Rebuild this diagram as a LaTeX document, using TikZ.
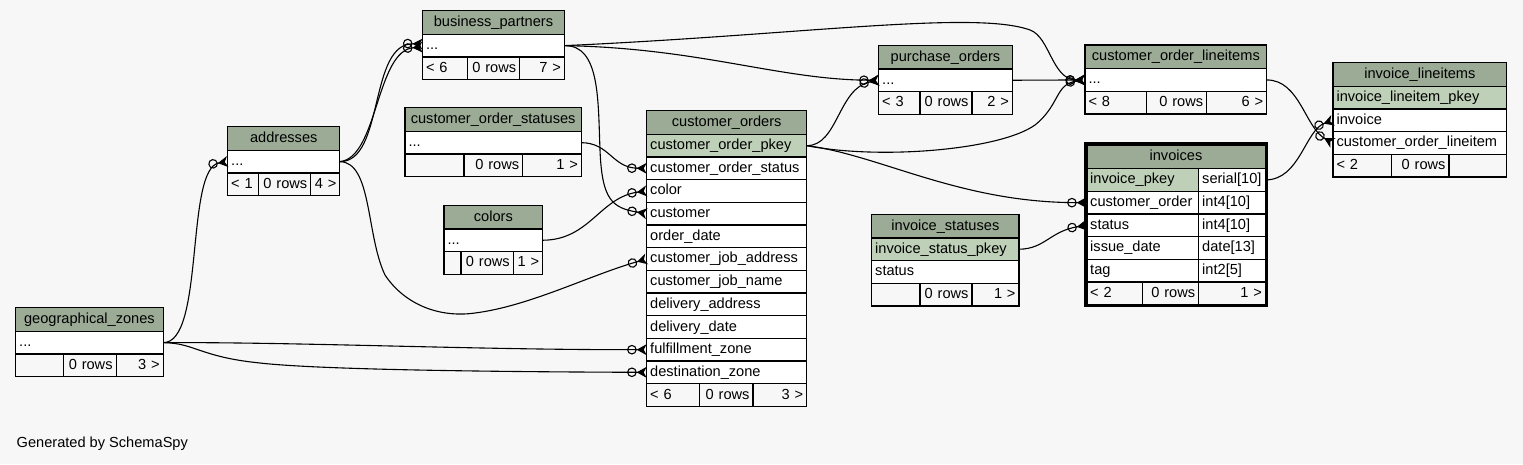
\documentclass[tikz,border=0pt]{standalone}
\usepackage{fontspec}
\setmainfont{Liberation Sans}
\usetikzlibrary{positioning,arrows.meta}

\definecolor{bgcol}{HTML}{F7F7F7}
\definecolor{headgreen}{HTML}{9BAB96}
\definecolor{keygreen}{HTML}{BED1B8}

\tikzset{
  cell/.style={draw, line width=1.2pt, outer sep=0pt, inner xsep=3.5pt, inner ysep=0pt,
    anchor=north west, minimum height=22.67pt, text height=10.6pt, text depth=2.6pt},
  thead/.style={cell, fill=headgreen, minimum height=23.6pt, text width=#1pt-7pt, align=center},
  pkey/.style={cell, fill=keygreen, text width=#1pt-7pt, align=left},
  field/.style={cell, fill=white, text width=#1pt-7pt, align=left},
  fleft/.style={cell, text width=#1pt-7pt, align=left},
  fright/.style={cell, text width=#1pt-7pt, align=right},
  fk/.style={line width=1.1pt,
    -{Circle[open,length=9.6pt,width=9.6pt,sep=0pt]Stealth[reversed,length=10pt,width=11pt,inset=3pt]}}
}

\begin{document}
\begin{tikzpicture}[x=1pt, y=-1pt, font=\fontsize{14.6}{17}\selectfont]
  \fill[bgcol] (0,0) rectangle (1523,464);
  \useasboundingbox (0,0) rectangle (1523,464);

  % business_partners
  \node[thead=142] (bp-h) at (422.5,10.7) {business\_partners};
  \node[field=142] (bp-r) at (bp-h.south west) {...};
  \node[fleft=45.2] (bp-f1) at (bp-r.south west) {< 6};
  \node[fright=52, right=0pt of bp-f1] (bp-f2) {0 rows};
  \node[fright=44.8, right=0pt of bp-f2] (bp-f3) {7 >};

  % addresses
  \node[thead=112.1] (addr-h) at (227.7,126.7) {addresses};
  \node[field=112.1] (addr-r) at (addr-h.south west) {...};
  \node[fleft=31] (addr-f1) at (addr-r.south west) {< 1};
  \node[fright=52.1, right=0pt of addr-f1] (addr-f2) {0 rows};
  \node[fright=29, right=0pt of addr-f2] (addr-f3) {4 >};

  % customer_order_statuses
  \node[thead=176.3] (cost-h) at (405,107.7) {customer\_order\_statuses};
  \node[field=176.3] (cost-r) at (cost-h.south west) {...};
  \node[fleft=59] (cost-f1) at (cost-r.south west) {};
  \node[fright=58.7, right=0pt of cost-f1] (cost-f2) {0 rows};
  \node[fright=58.6, right=0pt of cost-f2] (cost-f3) {1 >};

  % colors
  \node[thead=98.7] (clr-h) at (444,205.3) {colors};
  \node[field=98.7] (clr-r) at (clr-h.south west) {...};
  \node[fleft=17] (clr-f1) at (clr-r.south west) {};
  \node[fright=52.3, right=0pt of clr-f1] (clr-f2) {0 rows};
  \node[fright=29.4, right=0pt of clr-f2] (clr-f3) {1 >};

  % customer_orders
  \node[thead=160] (co-h) at (646.7,110.7) {customer\_orders};
  \node[pkey=160] (co-pk) at (co-h.south west) {customer\_order\_pkey};
  \node[field=160] (co-st) at (co-pk.south west) {customer\_order\_status};
  \node[field=160] (co-clr) at (co-st.south west) {color};
  \node[field=160] (co-cust) at (co-clr.south west) {customer};
  \node[field=160] (co-date) at (co-cust.south west) {order\_date};
  \node[field=160] (co-jaddr) at (co-date.south west) {customer\_job\_address};
  \node[field=160] (co-jname) at (co-jaddr.south west) {customer\_job\_name};
  \node[field=160] (co-daddr) at (co-jname.south west) {delivery\_address};
  \node[field=160] (co-ddate) at (co-daddr.south west) {delivery\_date};
  \node[field=160] (co-fz) at (co-ddate.south west) {fulfillment\_zone};
  \node[field=160] (co-dz) at (co-fz.south west) {destination\_zone};
  \node[fleft=53.1] (co-f1) at (co-dz.south west) {< 6};
  \node[fright=53.2, right=0pt of co-f1] (co-f2) {0 rows};
  \node[fright=53.7, right=0pt of co-f2] (co-f3) {3 >};

  % purchase_orders
  \node[thead=133.6] (po-h) at (878.7,45.3) {purchase\_orders};
  \node[field=133.6] (po-r) at (po-h.south west) {...};
  \node[fleft=41.3] (po-f1) at (po-r.south west) {< 3};
  \node[fright=52, right=0pt of po-f1] (po-f2) {0 rows};
  \node[fright=40.3, right=0pt of po-f2] (po-f3) {2 >};

  % customer_order_lineitems
  \node[thead=181.7] (coli-h) at (1085,45) {customer\_order\_lineitems};
  \node[field=181.7] (coli-r) at (coli-h.south west) {...};
  \node[fleft=61.7] (coli-f1) at (coli-r.south west) {< 8};
  \node[fright=60, right=0pt of coli-f1] (coli-f2) {0 rows};
  \node[fright=60, right=0pt of coli-f2] (coli-f3) {6 >};

  % invoice_statuses
  \node[thead=147.3] (ist-h) at (871.7,214.3) {invoice\_statuses};
  \node[pkey=147.3] (ist-pk) at (ist-h.south west) {invoice\_status\_pkey};
  \node[field=147.3] (ist-st) at (ist-pk.south west) {status};
  \node[fleft=48.3] (ist-f1) at (ist-st.south west) {};
  \node[fright=52, right=0pt of ist-f1] (ist-f2) {0 rows};
  \node[fright=47, right=0pt of ist-f2] (ist-f3) {1 >};

  % invoices
  \node[thead=178.6] (inv-h) at (1086.7,145) {invoices};
  \node[pkey=112] (inv-pk) at (inv-h.south west) {invoice\_pkey};
  \node[field=66.6, right=0pt of inv-pk] (inv-pkt) {serial[10]};
  \node[field=112] (inv-co) at (inv-pk.south west) {customer\_order};
  \node[field=66.6, right=0pt of inv-co] (inv-cot) {int4[10]};
  \node[field=112] (inv-st) at (inv-co.south west) {status};
  \node[field=66.6, right=0pt of inv-st] (inv-stt) {int4[10]};
  \node[field=112] (inv-date) at (inv-st.south west) {issue\_date};
  \node[field=66.6, right=0pt of inv-date] (inv-datet) {date[13]};
  \node[field=112] (inv-tag) at (inv-date.south west) {tag};
  \node[field=66.6, right=0pt of inv-tag] (inv-tagt) {int2[5]};
  \node[fleft=56] (inv-f1) at (inv-tag.south west) {< 2};
  \node[fright=56, right=0pt of inv-f1] (inv-f2) {0 rows};
  \node[fright=66.6, right=0pt of inv-f2] (inv-f3) {1 >};
  \draw[line width=3.6pt] ([shift={(-1,-1)}]inv-h.north west) rectangle ([shift={(1,1)}]inv-f3.south east);

  % invoice_lineitems
  \node[thead=173.7] (ili-h) at (1333,62.7) {invoice\_lineitems};
  \node[pkey=173.7] (ili-pk) at (ili-h.south west) {invoice\_lineitem\_pkey};
  \node[field=173.7] (ili-inv) at (ili-pk.south west) {invoice};
  \node[field=173.7] (ili-col) at (ili-inv.south west) {customer\_order\_lineitem};
  \node[fleft=58.7] (ili-f1) at (ili-col.south west) {< 2};
  \node[fright=57.3, right=0pt of ili-f1] (ili-f2) {0 rows};
  \node[fright=57.7, right=0pt of ili-f2] (ili-f3) {};

  % geographical_zones
  \node[thead=147.5] (gz-h) at (15.7,307.7) {geographical\_zones};
  \node[field=147.5] (gz-r) at (gz-h.south west) {...};
  \node[fleft=48.1] (gz-f1) at (gz-r.south west) {};
  \node[fright=52.3, right=0pt of gz-f1] (gz-f2) {0 rows};
  \node[fright=47.1, right=0pt of gz-f2] (gz-f3) {3 >};

  \node[anchor=west, inner sep=0pt] (gen) at (16.5,444) {Generated by SchemaSpy};

  % Relacoes (chaves estrangeiras)
  \draw[fk] (addr-r.east) .. controls (385,162) and (368,42) .. ([yshift=1.5pt]bp-r.west);
  \draw[fk] (addr-r.east) .. controls (378,158) and (376,50) .. ([yshift=-1.5pt]bp-r.west);
  \draw[fk] (gz-r.east) .. controls (205,343) and (185,168) .. (addr-r.west);
  \draw[fk] (addr-r.east) .. controls (372,162) and (366,235) .. (385,275)
    .. controls (405,305) and (440,318) .. (475,313)
    .. controls (530,306) and (590,275) .. (co-jaddr.west);
  \draw[fk] (gz-r.east) .. controls (300,342) and (480,350) .. (co-fz.west);
  \draw[fk] (gz-r.east) .. controls (195,343) and (200,357) .. (260,363)
    .. controls (330,371) and (560,372) .. (co-dz.west);
  \draw[fk] (bp-r.east) .. controls (600,45) and (598,100) .. (600,150)
    .. controls (602,200) and (612,208) .. (co-cust.west);
  \draw[fk] (bp-r.east) .. controls (700,48) and (780,80) .. (po-r.west);
  \draw[fk] (bp-r.east) .. controls (800,35) and (975,10) .. (1030,30)
    .. controls (1050,37) and (1052,80) .. (coli-r.west);
  \draw[fk] (po-r.east) -- (coli-r.west);
  \draw[fk] (co-pk.east) .. controls (838,146) and (838,88) .. (po-r.west);
  \draw[fk] (co-pk.east) .. controls (880,160) and (1000,150) .. (1035,125)
    .. controls (1060,105) and (1055,84) .. (coli-r.west);
  \draw[fk] (co-pk.east) .. controls (880,155) and (960,203) .. (inv-co.west);
  \draw[fk] (cost-r.east) .. controls (610,143) and (612,168) .. (co-st.west);
  \draw[fk] (clr-r.east) .. controls (590,240) and (600,197) .. (co-clr.west);
  \draw[fk] (ist-pk.east) .. controls (1045,249) and (1050,231) .. (inv-st.west);
  \draw[fk] (coli-r.east) .. controls (1300,80) and (1305,128) .. (ili-col.west);
  \draw[fk] (inv-pkt.east) .. controls (1300,180) and (1305,130) .. (ili-inv.west);
\end{tikzpicture}
\end{document}
